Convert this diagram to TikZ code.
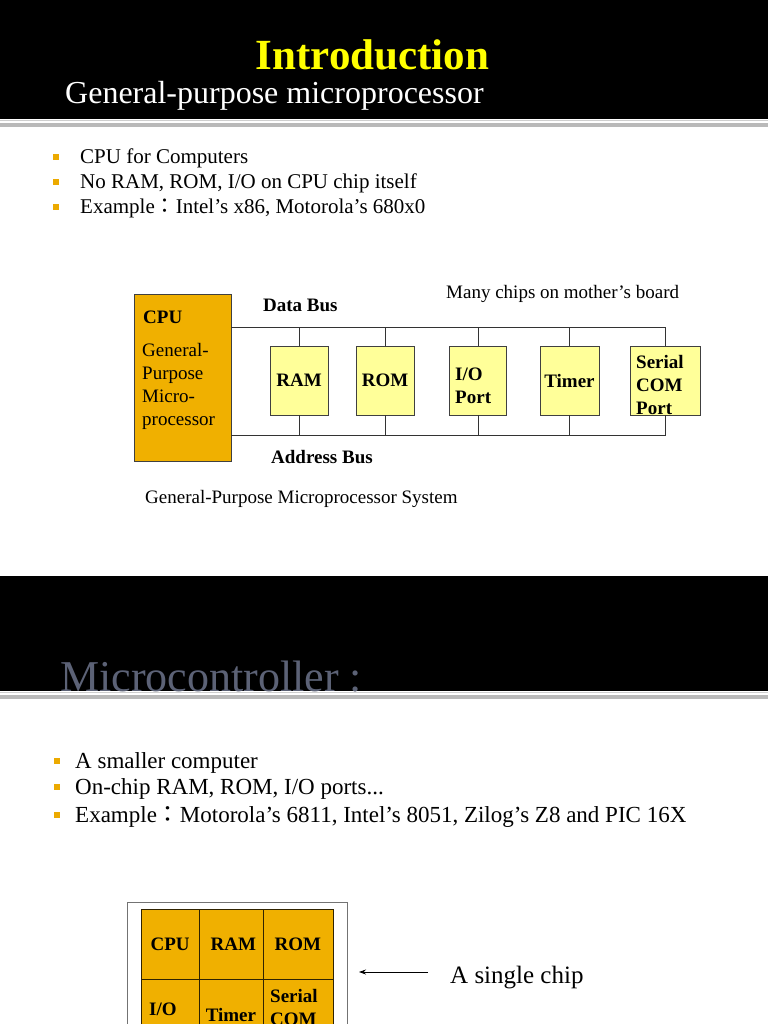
\documentclass[tikz,border=0pt]{standalone}
\usepackage{fontspec}
\setmainfont{Liberation Serif}
\newfontfamily\cjk{Noto Sans CJK TC}
\usetikzlibrary{arrows.meta}
\definecolor{chiporange}{RGB}{240,176,0}
\definecolor{chipyellow}{RGB}{255,255,153}
\definecolor{bulletorange}{RGB}{236,170,0}
\definecolor{mctitle}{RGB}{92,98,118}
\definecolor{titleyellow}{RGB}{255,255,0}
\definecolor{sepgrey}{RGB}{185,185,185}
\begin{document}
\begin{tikzpicture}[x=1pt,y=-1pt,
  txt/.style={inner sep=0pt, anchor=base west},
  bul/.style={fill=bulletorange, minimum size=6pt, inner sep=0pt},
  bodytext/.style={txt, font=\fontsize{21}{25}\selectfont},
  bodytextb/.style={txt, font=\fontsize{23}{27}\selectfont},
  dtext/.style={txt, font=\fontsize{19}{23}\selectfont},
  dbold/.style={txt, font=\fontsize{19}{23}\selectfont\bfseries},
  chipbox/.style={draw=black!75, fill=chipyellow, line width=0.8pt, minimum height=69pt, inner sep=0pt, font=\fontsize{19}{23}\selectfont\bfseries},
  cpubox/.style={draw=black!75, fill=chiporange, line width=0.8pt, inner sep=0pt},
  cell/.style={draw=black!80!chiporange, fill=chiporange, line width=0.8pt, minimum width=64pt, minimum height=70.5pt, inner sep=0pt, font=\fontsize{19}{23}\selectfont\bfseries},
  bus/.style={line width=0.8pt, draw=black!80}
]
\useasboundingbox (0,0) rectangle (768,1024);
\clip (0,0) rectangle (768,1024);
\fill[white] (0,0) rectangle (768,1024);

% ---------- top band ----------
\fill[black] (0,0) rectangle (768,119);
\fill[sepgrey!70] (0,120) rectangle (768,121.2);
\fill[sepgrey] (0,123.3) rectangle (768,126.7);
\node[txt, anchor=base, text=titleyellow, font=\fontsize{43}{50}\selectfont\bfseries] (title1) at (372.5,70) {Introduction};
\node[txt, text=white, font=\fontsize{32}{38}\selectfont] (sub1) at (65,104) {General-purpose microprocessor};

% bullets 1
\node[bul] (b1) at (56,157) {};
\node[bul] (b2) at (56,182) {};
\node[bul] (b3) at (56,207) {};
\node[bodytext] (l1) at (80,164) {CPU for Computers};
\node[bodytext] (l2) at (80,189) {No RAM, ROM, I/O on CPU chip itself};
\node[bodytext] (l3) at (80,214) {Example{\cjk ：}Intel’s x86, Motorola’s 680x0};

% ---------- diagram 1 ----------
\node[cpubox, minimum width=97pt, minimum height=167pt] (cpu) at (182.5,377.5) {};
\node[dbold] (cpulab) at (143,323.5) {CPU};
\node[dtext, anchor=west, align=left] (cpudesc) at (142,386.5) {General-\\Purpose\\Micro-\\processor};

\node[chipbox, minimum width=58pt] (ram) at (299,380.5) {RAM};
\node[chipbox, minimum width=58pt] (rom) at (385,380.5) {ROM};
\node[chipbox, minimum width=57pt] (io) at (478,380.5) {};
\node[dbold, anchor=west, align=left] (iolab) at (455,385.5) {I/O\\Port};
\node[chipbox, minimum width=59pt] (timer) at (569.5,380.5) {Timer};
\node[chipbox, minimum width=70pt] (serial) at (665,380.5) {};
\node[dbold, anchor=west, align=left] (seriallab) at (636,384.5) {Serial\\COM\\Port};

\coordinate (dbend) at (665,327);
\coordinate (abend) at (665,435);
\draw[bus] (cpu.east |- dbend) -- (dbend) -- (serial.north);
\draw[bus] (cpu.east |- abend) -- (abend) -- (serial.south);
\foreach \n in {ram,rom,io,timer}{
  \draw[bus] (\n.north) -- (\n.north |- dbend);
  \draw[bus] (\n.south) -- (\n.south |- abend);
}

\node[dbold] (databus) at (263,311) {Data Bus};
\node[dtext] (many) at (446,298) {Many chips on mother’s board};
\node[dbold] (addrbus) at (271,463) {Address Bus};
\node[dtext] (cap1) at (145,503) {General-Purpose Microprocessor System};

% ---------- second band ----------
\fill[black] (0,576) rectangle (768,691);
\fill[sepgrey!70] (0,692) rectangle (768,693.2);
\fill[sepgrey] (0,695) rectangle (768,698.5);
\node[txt, text=mctitle, font=\fontsize{44}{50}\selectfont] (title2) at (60,691) {Microcontroller :};

% bullets 2
\node[bul] (c1) at (57,761) {};
\node[bul] (c2) at (57,787) {};
\node[bul] (c3) at (57,815) {};
\node[bodytextb] (m1) at (75,768) {A smaller computer};
\node[bodytextb] (m2) at (75,794) {On-chip RAM, ROM, I/O ports...};
\node[bodytextb] (m3) at (75,822) {Example{\cjk ：}Motorola’s 6811, Intel’s 8051, Zilog’s Z8 and PIC 16X};

% ---------- diagram 2 ----------
\node[draw=black!55, line width=0.8pt, fill=white, minimum width=220pt, minimum height=170pt, inner sep=0pt, anchor=north west] (outer) at (127,902) {};
\node[cell, minimum width=57.5pt, anchor=north west] (ccpu) at (141,908.5) {CPU};
\node[cell, minimum width=64pt, anchor=north west] (cram) at (198.5,908.5) {\hspace*{5pt}RAM};
\node[cell, minimum width=70pt, anchor=north west] (crom) at (262.5,908.5) {ROM};
\node[cell, minimum width=57.5pt, anchor=north west] (cio) at (141,979) {};
\node[cell, minimum width=64pt, anchor=north west] (ctimer) at (198.5,979) {Timer};
\node[cell, minimum width=70pt, anchor=north west] (cserial) at (262.5,979) {};
\node[dbold] (ciolab) at (149,1015) {I/O};
\node[dbold, anchor=west, align=left] (cseriallab) at (270,1007) {Serial\\COM};

\node[txt, font=\fontsize{25}{30}\selectfont] (single) at (450,983) {A single chip};
\coordinate (arrtail) at (428,972);
\coordinate (arrtip) at (359,972);
\draw[line width=0.8pt, -{Stealth[length=7pt,width=5pt]}] (arrtail) -- (arrtip);
\end{tikzpicture}
\end{document}
